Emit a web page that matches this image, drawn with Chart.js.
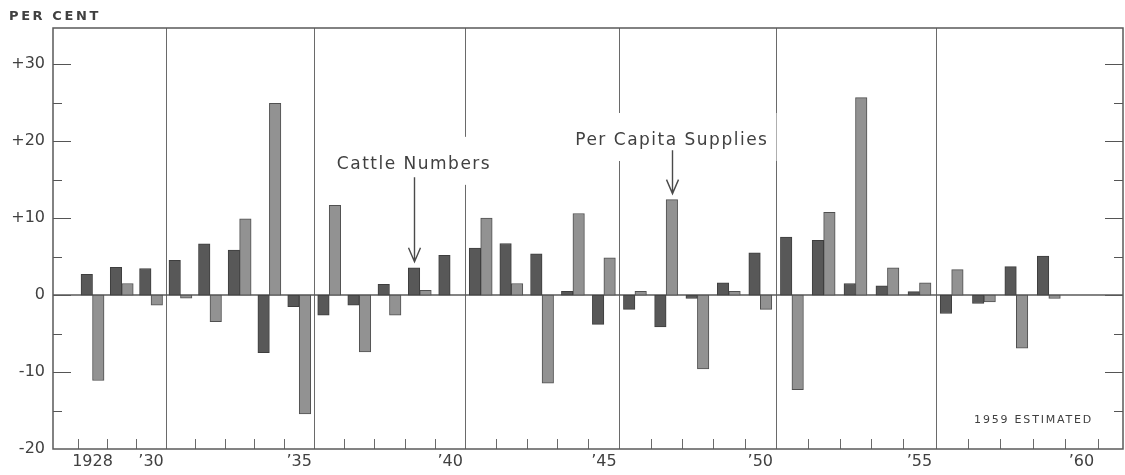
<!DOCTYPE html>
<html>
<head>
<meta charset="utf-8">
<script src="https://cdn.jsdelivr.net/npm/chart.js@4.4.1/dist/chart.umd.min.js"></script>
<style>
    html, body { margin: 0; padding: 0; background: #fff; }
    canvas { display: block; }
</style>
</head>
<body>
<canvas id="chart" width="1125" height="475"></canvas>
<script>
// year-to-year change, per cent
const years = [
    1928, 1929, 1930, 1931, 1932, 1933, 1934, 1935, 1936, 1937, 1938,
    1939, 1940, 1941, 1942, 1943, 1944, 1945, 1946, 1947, 1948, 1949,
    1950, 1951, 1952, 1953, 1954, 1955, 1956, 1957, 1958, 1959,
]
const cattleNumbers = [
    2.7, 3.6, 3.45, 4.5, 6.65, 5.85, -7.5, -1.5, -2.6, -1.3, 1.4,
    3.55, 5.15, 6.1, 6.7, 5.35, 0.5, -3.8, -1.85, -4.15, -0.45, 1.6,
    5.5, 7.55, 7.1, 1.5, 1.2, 0.45, -2.4, -1.1, 3.7, 5.05,
]
const perCapitaSupplies = [
    -11.1, 1.5, -1.3, -0.4, -3.45, 9.9, 24.9, -15.45, 11.65, -7.4, -2.6,
    0.6, 0, 10.0, 1.5, -11.45, 10.6, 4.85, 0.5, 12.4, -9.6, 0.5,
    -1.85, -12.3, 10.75, 25.65, 3.55, 1.6, 3.3, -0.9, -6.9, -0.45,
]

// axis ticks
const labelYears = [1928, 1930, 1935, 1940, 1945, 1950, 1955, 1960]
const yearLabels = ['1928', '\u201930', '\u201935', '\u201940', '\u201945', '\u201950', '\u201955', '\u201960']
const ruleYears = [1931, 1936, 1941, 1946, 1951, 1956]
const yTicks = [-20, -15, -10, -5, 0, 5, 10, 15, 20, 25, 30]

const X_MIN = 1926.64
const X_MAX = 1961.27
const Y_MIN = -20
const Y_MAX = 34.7
// the printed axis is slightly stretched towards the right
const BOW = 0.0616

const FONT = 'DejaVu Sans'
const INK = '#404040'

class BowedScale extends Chart.LinearScale {
    getPixelForValue(value) {
        if (value === null || value === undefined) return NaN
        const t = (value - this.min) / (this.max - this.min)
        return this.getPixelForDecimal(t + BOW * (t * t - t))
    }
    getValueForPixel(pixel) {
        const g = this.getDecimalForPixel(pixel)
        const t = (-(1 - BOW) + Math.sqrt((1 - BOW) ** 2 + 4 * BOW * g)) / (2 * BOW)
        return this.min + t * (this.max - this.min)
    }
}
BowedScale.id = 'bowed'
BowedScale.defaults = Chart.LinearScale.defaults
Chart.register(BowedScale)

const callouts = [
    { text: 'Cattle Numbers', dataset: 0, year: 1939, textAt: 16.4, arrowFrom: 15.3 },
    { text: 'Per Capita Supplies', dataset: 1, year: 1947, textAt: 19.5, arrowFrom: 18.8 },
]

const setCalloutFont = (ctx) => {
    ctx.font = '17px "' + FONT + '"'
    ctx.letterSpacing = '1.5px'
}

const decor = {
    id: 'decor',
    beforeDatasetsDraw(chart) {
        const { ctx, chartArea: a, scales: { x, y } } = chart
        ctx.save()
        ctx.strokeStyle = '#6a6a6a'
        ctx.lineWidth = 1

        // slot boundaries: full rules every five years, short ticks otherwise
        for (let v = years[0] - 0.5; v <= labelYears[labelYears.length - 1] + 0.5; v++) {
            const px = Math.round(x.getPixelForValue(v)) + 0.5
            const full = ruleYears.includes(v + 0.5)
            ctx.beginPath()
            ctx.moveTo(px, a.bottom)
            ctx.lineTo(px, full ? a.top : a.bottom - 10)
            ctx.stroke()
        }

        // gaps in the rules behind the callout text
        ctx.fillStyle = '#fff'
        setCalloutFont(ctx)
        callouts.forEach((c) => {
            const bar = chart.getDatasetMeta(c.dataset).data[years.indexOf(c.year)]
            const w = ctx.measureText(c.text).width
            const base = y.getPixelForValue(c.textAt)
            ctx.fillRect(bar.x - w / 2 - 8, base - 32, w + 16, 48)
        })

        // inward ticks on both value axes
        ctx.strokeStyle = '#555'
        yTicks.forEach((v) => {
            if (v === Y_MIN) return
            const py = Math.round(y.getPixelForValue(v)) + 0.5
            const len = v % 10 === 0 ? 18 : 9
            ctx.beginPath()
            ctx.moveTo(a.left, py)
            ctx.lineTo(a.left + len, py)
            ctx.moveTo(a.right, py)
            ctx.lineTo(a.right - len, py)
            ctx.stroke()
        })

        // zero line
        ctx.lineWidth = 1.5
        ctx.strokeStyle = '#5a5a5a'
        const zy = y.getPixelForValue(0)
        ctx.beginPath()
        ctx.moveTo(a.left, zy)
        ctx.lineTo(a.right, zy)
        ctx.stroke()

        // frame
        ctx.strokeRect(a.left, a.top, a.right - a.left, a.bottom - a.top)
        ctx.restore()
    },
    afterDatasetsDraw(chart) {
        const { ctx, chartArea: a, scales: { y } } = chart
        ctx.save()
        ctx.fillStyle = INK
        ctx.strokeStyle = '#4a4a4a'
        ctx.lineWidth = 1.4

        callouts.forEach((c) => {
            const bar = chart.getDatasetMeta(c.dataset).data[years.indexOf(c.year)]
            setCalloutFont(ctx)
            ctx.textAlign = 'center'
            ctx.textBaseline = 'alphabetic'
            ctx.fillText(c.text, bar.x, y.getPixelForValue(c.textAt))

            const x0 = Math.round(bar.x) + 0.5
            const y0 = y.getPixelForValue(c.arrowFrom)
            const y1 = bar.y - 6
            ctx.beginPath()
            ctx.moveTo(x0, y0)
            ctx.lineTo(x0, y1)
            ctx.moveTo(x0 - 6, y1 - 14)
            ctx.lineTo(x0, y1)
            ctx.lineTo(x0 + 6, y1 - 14)
            ctx.stroke()
        })

        ctx.textAlign = 'left'
        ctx.font = 'bold 13px "' + FONT + '"'
        ctx.letterSpacing = '2.6px'
        ctx.fillText('PER CENT', 9, 20)

        ctx.textAlign = 'right'
        ctx.font = '11px "' + FONT + '"'
        ctx.letterSpacing = '1.8px'
        ctx.fillText('1959 ESTIMATED', a.right - 30, a.bottom - 26)
        ctx.restore()
    },
}

const ctx = document.getElementById('chart').getContext('2d')

new Chart(ctx, {
    type: 'bar',
    data: {
        datasets: [
            {
                label: 'Cattle Numbers',
                data: years.map((yr, i) => ({ x: yr, y: cattleNumbers[i] })),
                backgroundColor: '#585858',
                borderColor: '#3e3e3e',
            },
            {
                label: 'Per Capita Supplies',
                data: years.map((yr, i) => ({ x: yr, y: perCapitaSupplies[i] })),
                backgroundColor: '#929292',
                borderColor: '#505050',
            },
        ],
    },
    options: {
        responsive: false,
        animation: false,
        events: [],
        layout: { padding: { top: 28, right: 2, left: 0, bottom: 0 } },
        datasets: {
            bar: {
                barThickness: 11.5,
                borderWidth: 1,
                borderSkipped: false,
            },
        },
        plugins: {
            legend: { display: false },
            tooltip: { enabled: false },
        },
        scales: {
            x: {
                type: 'bowed',
                min: X_MIN,
                max: X_MAX,
                offset: false,
                afterBuildTicks: (s) => {
                    s.ticks = labelYears.map((v) => ({ value: v }))
                },
                afterFit: (s) => {
                    s.height = 26
                },
                grid: { display: false, drawTicks: false, offset: false },
                border: { display: false },
                ticks: {
                    autoSkip: false,
                    maxRotation: 0,
                    padding: 3,
                    color: INK,
                    font: { family: FONT, size: 16 },
                    callback: (v) => yearLabels[labelYears.indexOf(v)],
                },
            },
            y: {
                min: Y_MIN,
                max: Y_MAX,
                afterBuildTicks: (s) => {
                    s.ticks = yTicks.map((v) => ({ value: v }))
                },
                afterFit: (s) => {
                    s.width = 53
                },
                grid: { display: false, drawTicks: false },
                border: { display: false },
                ticks: {
                    autoSkip: false,
                    padding: 8,
                    color: INK,
                    font: { family: FONT, size: 16 },
                    callback: (v) => (v % 10 !== 0 ? '' : v > 0 ? '+' + v : String(v)),
                },
            },
        },
    },
    plugins: [decor],
})
</script>
</body>
</html>
